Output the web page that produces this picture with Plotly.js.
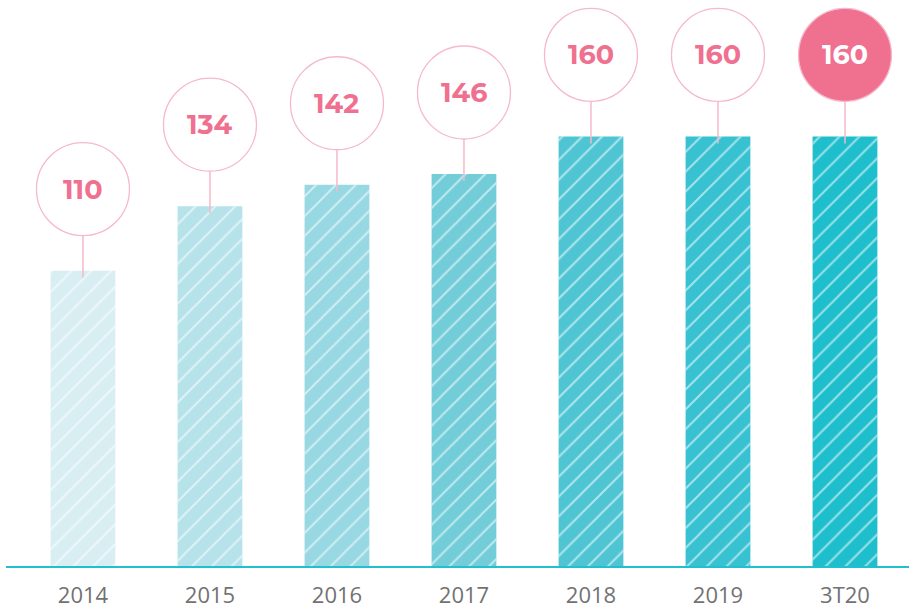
<!DOCTYPE html>
<html><head><meta charset="utf-8">
<script src="https://cdn.plot.ly/plotly-3.0.1.min.js"></script>
<style>html,body{margin:0;padding:0;background:#fff}#c{width:909px;height:611px}</style>
</head><body><div id="c"></div>
<script>
const categories = ["2014","2015","2016","2017","2018","2019","3T20"];
const values = [110, 134, 142, 146, 160, 160, 160];
const barColors = ["#d8eef3","#b6e2ea","#97d8e3","#72cdd9","#4fc5d4","#37c1d1","#1fbecc"];
const labels = values.map(String);

const pink = "#f07090";
const ring = "#f6b9c9";

const solid = {
  type: "bar", x: categories, y: values, width: 0.51,
  marker: { color: barColors, line: {width: 0} }, hoverinfo: "skip"
};
const stripes = {
  type: "bar", x: categories, y: values, width: 0.51,
  marker: { color: "rgba(255,255,255,0.55)", line: {width: 0},
    pattern: { shape: "/", fillmode: "replace", size: 14, solidity: 0.14 } },
  hoverinfo: "skip"
};

const shapes = [], annotations = [];
categories.forEach((c, i) => {
  const last = i === categories.length - 1;
  shapes.push({ type: "line", xref: "x", yref: "y", xsizemode: "pixel", ysizemode: "pixel",
    xanchor: i, yanchor: values[i], x0: 0, x1: 0, y0: -7, y1: 36,
    line: { color: ring, width: 1.5 }, layer: "above" });
  shapes.push({ type: "circle", xref: "x", yref: "y", xsizemode: "pixel", ysizemode: "pixel",
    xanchor: i, yanchor: values[i], x0: -46.5, x1: 46.5, y0: 35, y1: 128,
    fillcolor: last ? pink : "#ffffff", line: { color: ring, width: 1.3 }, layer: "above" });
  annotations.push({ x: i, y: values[i], xref: "x", yref: "y", yshift: 81.5, showarrow: false,
    text: "<b>" + labels[i] + "</b>",
    font: { family: "Montserrat, 'Open Sans', sans-serif", size: 27, color: last ? "#ffffff" : pink } });
});

const layout = {
  width: 909, height: 611, margin: { l: 6, r: 0, t: 0, b: 45 }, barmode: "overlay",
  paper_bgcolor: "#ffffff", plot_bgcolor: "#ffffff", showlegend: false,
  xaxis: { type: "category", range: [-0.606, 6.504], showline: true, linecolor: "#22bfcf", linewidth: 2,
    ticks: "", showgrid: false, zeroline: false, ticklabelstandoff: 9,
    tickfont: { family: "'Open Sans', sans-serif", size: 22, color: "#727272" } },
  yaxis: { range: [0, 210.8], visible: false, showgrid: false, zeroline: false },
  shapes: shapes, annotations: annotations
};
Plotly.newPlot("c", [solid, stripes], layout, { displayModeBar: false, staticPlot: true });
</script></body></html>
